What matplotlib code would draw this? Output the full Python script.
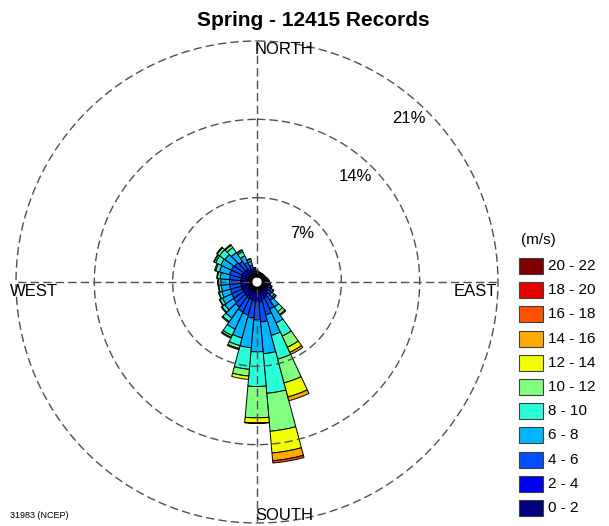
import numpy as np
import matplotlib.pyplot as plt
from matplotlib.patches import Rectangle

plt.rcParams['font.family'] = ['Liberation Sans', 'DejaVu Sans']

# direction sectors (degrees, where the wind blows from)
directions = np.arange(0, 360, 10)

speed_labels = ['0 - 2', '2 - 4', '4 - 6', '6 - 8', '8 - 10', '10 - 12',
                '12 - 14', '14 - 16', '16 - 18', '18 - 20', '20 - 22']
speed_colors = ['#000080', '#0000f0', '#0050ff', '#00b4ff', '#28ffd8', '#80ff80',
                '#f0ff00', '#ffaa00', '#ff5000', '#e80000', '#800000']

# frequency (%) per direction sector, one list per speed class
f_0_2 = [0.20, 0.20, 0.18, 0.18, 0.18, 0.18, 0.20, 0.20, 0.22, 0.22, 0.24, 0.25,
         0.26, 0.28, 0.30, 0.36, 0.36, 0.45, 0.45, 0.36, 0.36, 0.36, 0.34, 0.32,
         0.32, 0.32, 0.32, 0.32, 0.32, 0.32, 0.32, 0.30, 0.28, 0.25, 0.22, 0.20]
f_2_4 = [0.15, 0.12, 0.12, 0.10, 0.10, 0.10, 0.12, 0.15, 0.18, 0.20, 0.22, 0.26,
         0.30, 0.36, 0.50, 0.64, 0.71, 0.80, 0.80, 0.80, 0.71, 0.71, 0.65, 0.62,
         0.60, 0.60, 0.60, 0.60, 0.60, 0.62, 0.62, 0.60, 0.55, 0.45, 0.35, 0.22]
f_4_6 = [0.10, 0.08, 0.05, 0.05, 0.05, 0.05, 0.05, 0.08, 0.10, 0.12, 0.16, 0.22,
         0.30, 0.42, 0.70, 1.14, 1.43, 1.80, 1.60, 1.54, 1.43, 1.34, 1.20, 1.10,
         1.05, 1.00, 1.00, 1.00, 1.00, 1.05, 1.05, 1.00, 0.90, 0.70, 0.45, 0.20]
f_6_8 = [0.05, 0.00, 0.00, 0.00, 0.00, 0.00, 0.00, 0.00, 0.03, 0.05, 0.06, 0.10,
         0.18, 0.30, 0.70, 1.36, 1.90, 2.85, 2.85, 2.66, 2.14, 1.70, 1.20, 0.95,
         0.90, 0.80, 0.75, 0.78, 0.85, 0.95, 1.05, 1.05, 0.95, 0.65, 0.35, 0.10]
f_8_10 = [0.00, 0.00, 0.00, 0.00, 0.00, 0.00, 0.00, 0.00, 0.00, 0.00, 0.00, 0.03,
          0.06, 0.15, 0.50, 1.30, 2.20, 3.55, 3.10, 1.94, 0.71, 0.63, 0.40, 0.30,
          0.25, 0.25, 0.22, 0.22, 0.25, 0.35, 0.50, 0.60, 0.55, 0.40, 0.20, 0.05]
f_10_12 = [0.00, 0.00, 0.00, 0.00, 0.00, 0.00, 0.00, 0.00, 0.00, 0.00, 0.00, 0.00,
           0.02, 0.06, 0.30, 1.10, 2.20, 3.40, 2.80, 0.60, 0.27, 0.18, 0.10, 0.08,
           0.06, 0.05, 0.05, 0.05, 0.06, 0.10, 0.15, 0.25, 0.25, 0.15, 0.08, 0.00]
f_12_14 = [0.00, 0.00, 0.00, 0.00, 0.00, 0.00, 0.00, 0.00, 0.00, 0.00, 0.00, 0.00,
           0.00, 0.00, 0.10, 0.50, 1.30, 1.95, 0.45, 0.30, 0.10, 0.09, 0.00, 0.00,
           0.00, 0.00, 0.00, 0.00, 0.00, 0.00, 0.05, 0.08, 0.08, 0.05, 0.00, 0.00]
f_14_16 = [0.00] * 15 + [0.20, 0.35, 0.70, 0.05] + [0.00] * 17
f_16_18 = [0.00] * 17 + [0.20] + [0.00] * 18
f_18_20 = [0.00] * 36
f_20_22 = [0.00] * 36

freq_by_speed = [f_0_2, f_2_4, f_4_6, f_6_8, f_8_10, f_10_12,
                 f_12_14, f_14_16, f_16_18, f_18_20, f_20_22]

rings = [7, 14, 21]
title = 'Spring - 12415 Records'

hole = 0.54  # radius of the empty centre, in % units

fig = plt.figure(figsize=(6.09, 5.26), dpi=100)
W, H = 609, 526
cx, cy, R = 257, 282, 241
ax = fig.add_axes([(cx - R) / W, (H - cy - R) / H, 2 * R / W, 2 * R / H],
                  projection='polar')
ax.set_theta_zero_location('N')
ax.set_theta_direction(-1)
ax.set_rorigin(-hole)
ax.set_ylim(0, rings[-1])
ax.set_axis_off()

theta = np.deg2rad(directions)
width = np.deg2rad(10)
bottom = np.zeros(len(directions))
for freq, col in zip(freq_by_speed, speed_colors):
    freq = np.array(freq)
    m = freq > 0
    ax.bar(theta[m], freq[m], width=width, bottom=bottom[m], color=col,
           edgecolor='black', linewidth=0.7, zorder=2)
    bottom += freq

# dashed rings and cross hair, drawn over the bars
grid_kw = dict(color='#505050', linewidth=1.0, dashes=(6, 3), zorder=4, clip_on=False)
circ = np.linspace(0, 2 * np.pi, 721)
for r in rings:
    ax.plot(circ, np.full_like(circ, r), **grid_kw)
for a in [0, 90, 180, 270]:
    ax.plot([np.deg2rad(a)] * 2, [0, rings[-1]], **grid_kw)
ax.plot(circ, np.zeros_like(circ), color='black', linewidth=2.0, zorder=5, clip_on=False)

for r in rings:
    ax.text(np.deg2rad(43), r - 1.6, f'{r}%', fontsize=12, ha='center', va='center', zorder=6)

# overlay in pixel units for labels and legend
ov = fig.add_axes([0, 0, 1, 1])
ov.set_xlim(0, W)
ov.set_ylim(H, 0)
ov.set_axis_off()

ov.text(313, 20, title, fontsize=15, fontweight='bold', ha='center', va='center')
ov.text(255, 49, 'NORTH', fontsize=12, ha='left', va='center')
ov.text(255, 515, 'SOUTH', fontsize=12, ha='left', va='center')
ov.text(10, 292, 'WEST', fontsize=12, ha='left', va='center')
ov.text(497, 292, 'EAST', fontsize=12, ha='right', va='center')
ov.text(10, 516, '31983 (NCEP)', fontsize=6.5, ha='left', va='center')

ov.text(521, 240, '(m/s)', fontsize=11, ha='left', va='center')
for i, (lab, col) in enumerate(zip(speed_labels[::-1], speed_colors[::-1])):
    y = 266 + i * 24.2
    ov.add_patch(Rectangle((519, y - 8), 24, 16, facecolor=col, edgecolor='#404040', linewidth=0.8))
    ov.text(548, y, lab, fontsize=11, ha='left', va='center')

fig.savefig('out.png', dpi=100)
